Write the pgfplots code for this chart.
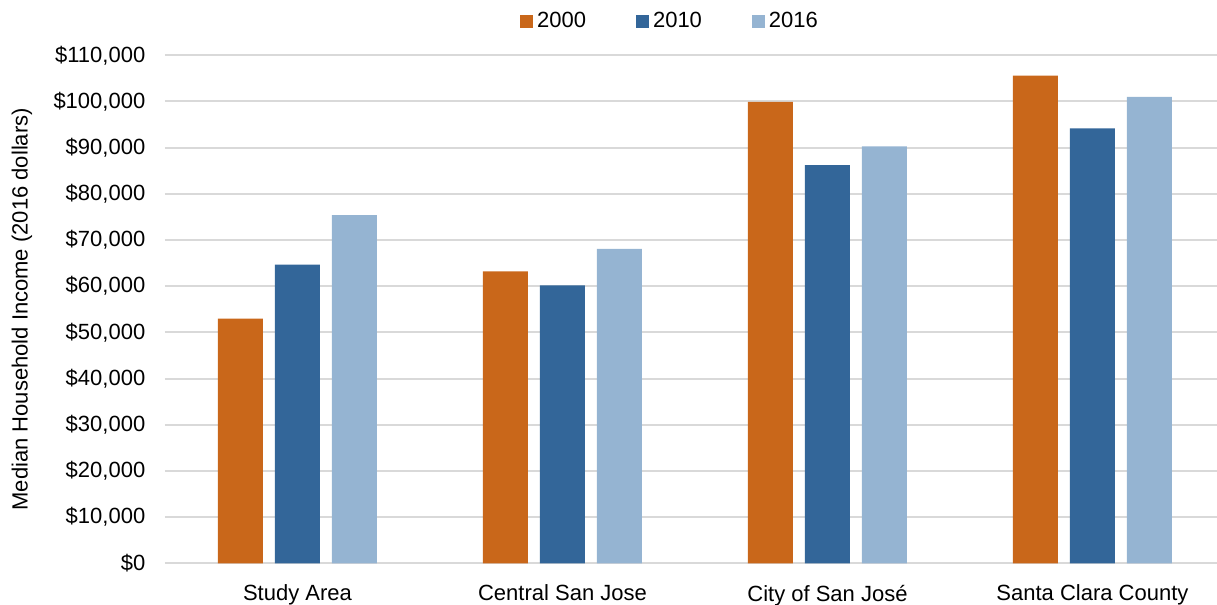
\documentclass[border=0pt]{standalone}
\usepackage{fontspec}
\setmainfont{Liberation Sans}
\usepackage{pgfplots}
\pgfplotsset{compat=1.18}
\usetikzlibrary{calc}
\definecolor{cA}{RGB}{201,103,26}
\definecolor{cB}{RGB}{51,102,153}
\definecolor{cC}{RGB}{149,180,210}
\definecolor{gridc}{RGB}{217,217,217}
\begin{document}
\fontsize{11}{13.2}\selectfont
\begin{tikzpicture}
\begin{axis}[
  name=ax,
  scale only axis,
  width=526pt, height=254pt,
  ybar=6pt, bar width=22.5pt,
  xmin=-0.5, xmax=3.47,
  ymin=0, ymax=110000,
  xtick={0,1,2,3},
  xticklabels={Study Area,Central San Jose,City of San José,Santa Clara County},
  ytick={0,10000,...,110000},
  scaled y ticks=false,
  /pgf/number format/assume math mode=true,
  yticklabel={\$\pgfmathprintnumber[fixed,precision=0,1000 sep={,}]{\tick}},
  major tick length=0pt,
  axis line style={draw=none},
  ymajorgrids, grid style={gridc, line width=1pt},
  tick label style={font=\fontsize{11}{13.2}\selectfont, black},
  yticklabel style={xshift=-6pt},
  xticklabel style={yshift=-7pt},
  every axis y label/.style={at={(rel axis cs:0,0.5)}, xshift=-71.5pt, rotate=90, anchor=center, font=\fontsize{11}{13.2}\selectfont},
  ylabel={Median Household Income (2016 dollars)},
  legend style={at={(rel axis cs:0.481,1)}, anchor=center, yshift=17pt, draw=none, fill=none,
    legend columns=3, font=\fontsize{11}{13.2}\selectfont,
    /tikz/every even column/.append style={column sep=23pt}},
  legend image code/.code={\fill[#1] (0pt,-3.25pt) rectangle (6.5pt,3.25pt);},
]
\addplot[fill=cA, draw=none] coordinates {(0,53000) (1,63200) (2,99900) (3,105600)};
\addplot[fill=cB, draw=none] coordinates {(0,64700) (1,60200) (2,86200) (3,94200)};
\addplot[fill=cC, draw=none] coordinates {(0,75400) (1,68100) (2,90300) (3,101000)};
\legend{2000,2010,2016}
\end{axis}
\pgfresetboundingbox
\path ($(ax.south west)+(-82.5pt,-20.85pt)$) rectangle ($(ax.north east)+(0pt,27.65pt)$);
\end{tikzpicture}
\end{document}
